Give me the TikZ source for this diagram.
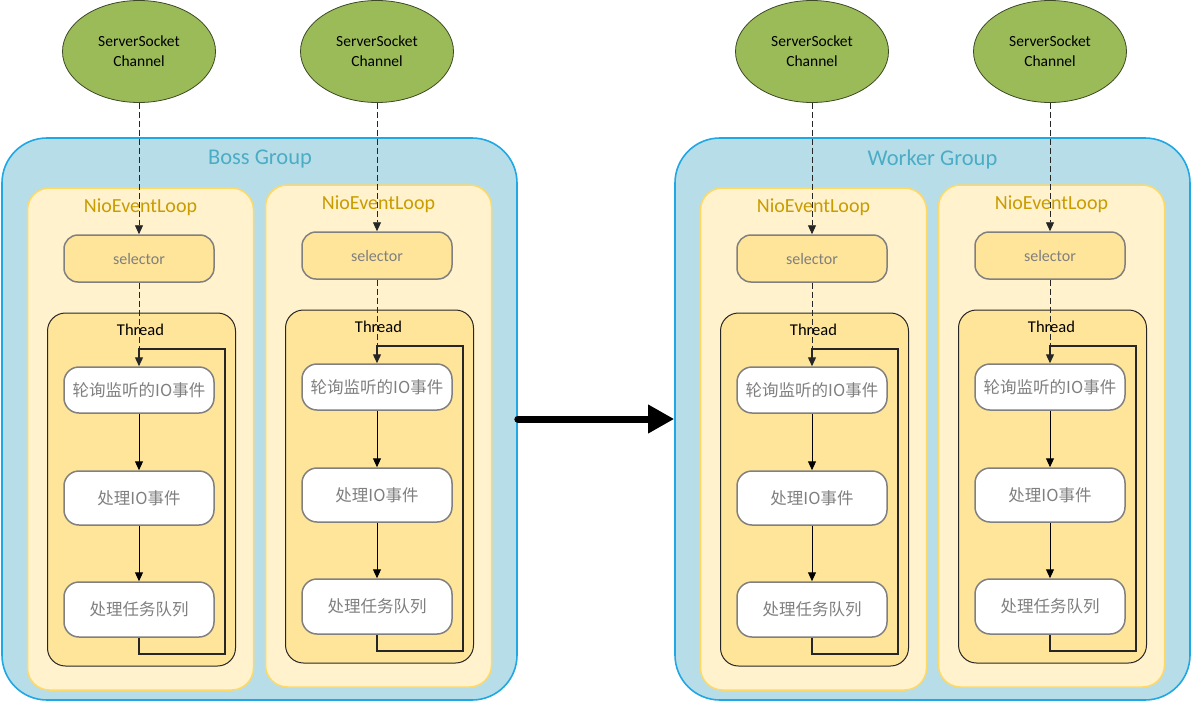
\documentclass[tikz,border=0pt]{standalone}
\usepackage{fontspec}
\setmainfont{Carlito}
\newfontfamily\cjk{Noto Sans CJK SC}
\usetikzlibrary{arrows.meta,shapes.geometric,calc}
\definecolor{grpfill}{HTML}{B7DEE8}
\definecolor{grpline}{HTML}{1FA7E6}
\definecolor{grptext}{HTML}{4BACC6}
\definecolor{nelfill}{HTML}{FFF2CC}
\definecolor{nelline}{HTML}{FFD966}
\definecolor{neltext}{HTML}{C99C00}
\definecolor{selfill}{HTML}{FFE599}
\definecolor{greyline}{HTML}{808080}
\definecolor{greytext}{HTML}{7F7F7F}
\definecolor{sockfill}{HTML}{9BBB59}
\definecolor{sockline}{HTML}{3C4A25}
\tikzset{
  x=1pt, y=-1pt,
  grpbox/.style={draw=grpline, line width=1.6pt, fill=grpfill, rounded corners=45pt,
    minimum width=515pt, minimum height=562pt, inner sep=0pt},
  grplabel/.style={text=grptext, font=\fontsize{22.5}{26}\selectfont},
  sock/.style={ellipse, draw=sockline, line width=0.8pt, fill=sockfill,
    minimum width=153pt, minimum height=102pt, inner sep=0pt, align=center,
    font=\fontsize{15.5}{20}\selectfont},
  nelbox/.style={draw=nelline, line width=1.5pt, fill=nelfill, rounded corners=22pt,
    minimum width=226pt, minimum height=502pt, inner sep=0pt},
  nellabel/.style={text=neltext, font=\fontsize{20}{22}\selectfont},
  selbox/.style={draw=greyline, line width=1.5pt, fill=selfill, rounded corners=14pt,
    minimum width=150pt, minimum height=47pt, inner sep=0pt, text=greytext,
    font=\fontsize{16}{18}\selectfont},
  thrbox/.style={draw=black!85, line width=1pt, fill=selfill, rounded corners=18pt,
    minimum width=188pt, minimum height=353pt, inner sep=0pt},
  thrlabel/.style={text=black, font=\fontsize{16.5}{18}\selectfont},
  stepbox/.style={draw=greyline, line width=1.5pt, fill=white, rounded corners=15pt,
    minimum width=150pt, inner sep=0pt, text=greytext,
    font=\cjk\fontsize{16.5}{18}\selectfont},
  dashline/.style={draw=black!85, line width=0.9pt, dash pattern=on 6pt off 3pt},
  flowline/.style={draw=black, line width=1pt, -{Triangle[length=9pt,width=8pt]}},
  cycleline/.style={draw=black!85, line width=1.3pt},
  bigarrow/.style={draw=black, line width=7pt, line cap=round, -{Triangle[length=26pt,width=27pt]}}
}
% #1 name prefix, #2 x of box centres, #3 vertical offset
\newcommand\drawcolumn[3]{%
  \node[nelbox] (#1nel) at ({#2+1.5},{439+(#3)}) {};
  \node[nellabel] (#1nellab) at ({#2+1.5},{207.5+(#3)}) {NioEventLoop};
  \node[thrbox] (#1thr) at ({#2+2.5},{489.5+(#3)}) {};
  \node[thrlabel] (#1thrlab) at ({#2+1.5},{329.5+(#3)}) {Thread};
  \node[sock] (#1sock) at ({#2},51.5) {ServerSocket\\Channel};
  \node[selbox] (#1sel) at ({#2},{258.5+(#3)}) {selector};
  \node[stepbox, minimum height=46pt] (#1b1) at ({#2},{390+(#3)}) {轮询监听的IO事件};
  \node[stepbox, minimum height=54pt] (#1b2) at ({#2},{498+(#3)}) {处理IO事件};
  \node[stepbox, minimum height=55pt] (#1b3) at ({#2},{609.5+(#3)}) {处理任务队列};
  \coordinate (#1top) at ({#2},{349+(#3)});
  \coordinate (#1lb) at ({#2},{654+(#3)});
  \coordinate (#1rb) at ({#2+86},{654+(#3)});
  \coordinate (#1rt) at ({#2+86},{349+(#3)});
  \draw[dashline, -{Triangle[length=9pt,width=8pt]}] (#1sock.south) -- (#1sel.north);
  \draw[dashline] (#1sel.south) -- (#1top);
  \draw[cycleline, -{Triangle[length=9pt,width=8pt]}] (#1b3.south) -- (#1lb) -- (#1rb) -- (#1rt) -- (#1top) -- (#1b1.north);
  \draw[flowline] (#1b1.south) -- (#1b2.north);
  \draw[flowline] (#1b2.south) -- (#1b3.north);
}
\begin{document}
\begin{tikzpicture}
  \useasboundingbox (0,0) rectangle (1192,702);
  \fill[white] (0,0) rectangle (1192,702);
  \node[grpbox] (boss) at (259.5,419) {};
  \node[grplabel] (bosslab) at (260,159.5) {Boss Group};
  \node[grpbox] (worker) at (932.5,419) {};
  \node[grplabel] (workerlab) at (932.5,159.5) {Worker Group};
  \drawcolumn{ba}{139}{0}
  \drawcolumn{bb}{377}{-3}
  \drawcolumn{wa}{812}{0}
  \drawcolumn{wb}{1050}{-3}
  \draw[bigarrow] (boss.east) -- (worker.west);
\end{tikzpicture}
\end{document}
